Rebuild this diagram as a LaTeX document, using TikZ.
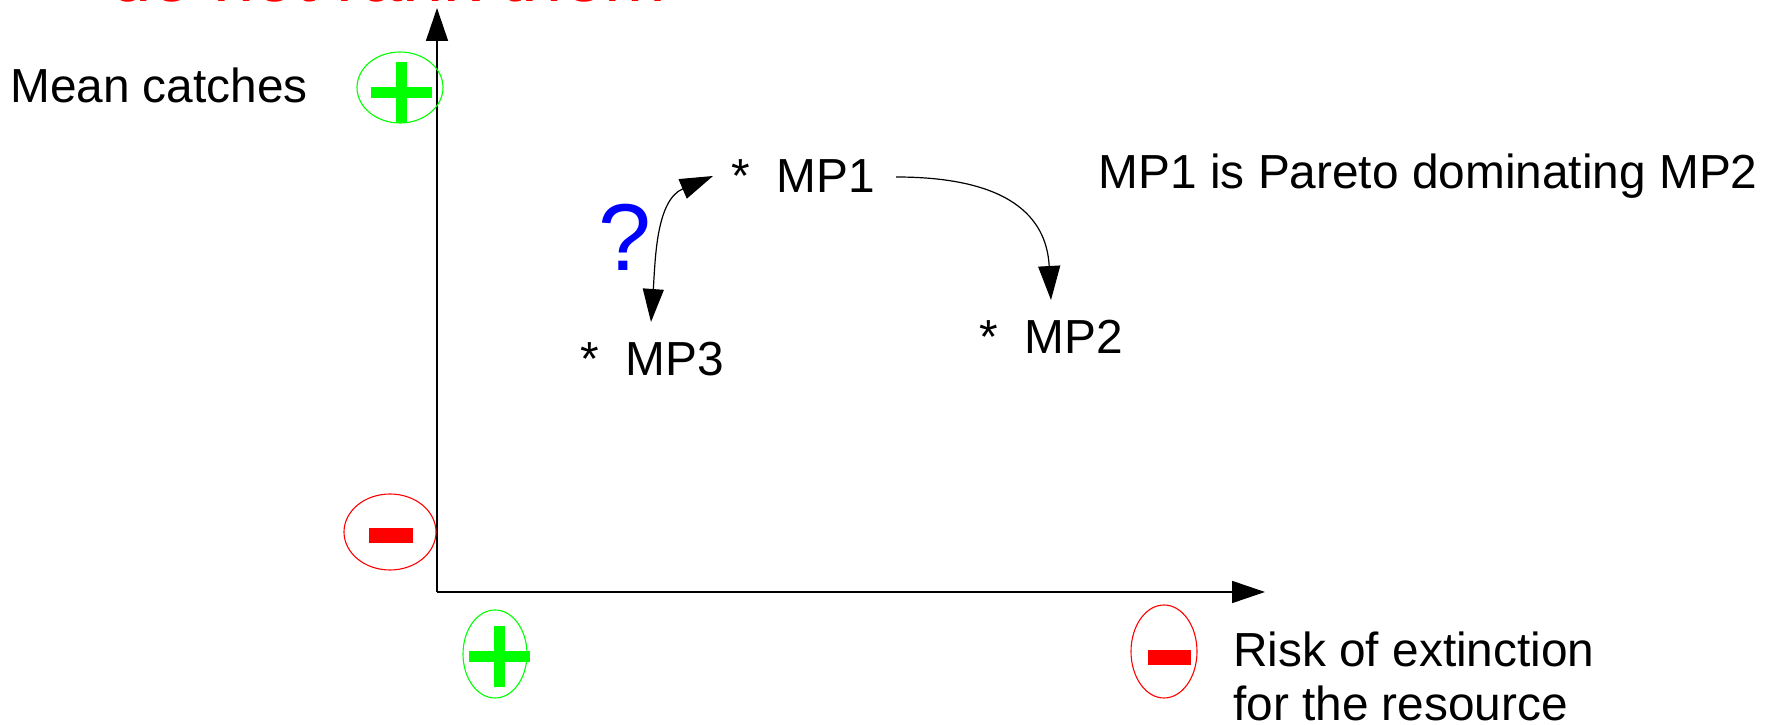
\documentclass[tikz,border=0pt]{standalone}
\usepackage{fontspec}
\setmainfont{Liberation Sans}
\usetikzlibrary{arrows.meta,shapes.geometric}

\definecolor{signgreen}{RGB}{0,255,0}
\definecolor{signred}{RGB}{255,0,0}
\definecolor{qblue}{RGB}{0,0,255}

\begin{document}
\begin{tikzpicture}[x=1pt,y=1pt,
  lbl/.style={inner sep=0pt, anchor=base west, font=\fontsize{47.8}{54}\selectfont},
  axisline/.style={line width=1.6pt, -{Triangle[length=33pt,width=22pt]}},
  linkline/.style={line width=1.2pt},
  tipd/.style={{Triangle[length=33pt,width=21pt]}-{Triangle[length=33pt,width=21pt]}},
  tips/.style={-{Triangle[length=34pt,width=22pt]}},
  signring/.style={ellipse, draw, line width=1.1pt, inner sep=0pt},
  plussign/.pic={
    \fill (-30.5,-5.4) rectangle (30.5,5.4);
    \fill (-5.4,-30.5) rectangle (5.4,30.5);
  }
]
\useasboundingbox (0,0) rectangle (1772,725);

% heading line (only its lower edge falls inside the page)
\node[inner sep=0pt, anchor=base west, text=signred,
      font=\fontsize{74}{80}\selectfont] (title) at (110.5,723) {do not rank them};

% axes
\coordinate (O) at (437,133);
\coordinate (ytip) at (437,717);
\coordinate (xtip) at (1265,133);
\draw[axisline] (O) -- (ytip);
\draw[axisline] (O) -- (xtip);

% axis labels
\node[lbl] (ylab) at (10,622) {Mean catches};
\node[lbl] (xlab) at (1233,58) {Risk of extinction};
\node[lbl] (xlabb) at (1233,4) {for the resource};

% good / bad markers on the axes
\node[signring, draw=signgreen, minimum width=86pt, minimum height=71pt] (ygood) at (400,637.5) {};
\pic[signgreen] at (401.5,632.5) {plussign};

\node[signring, draw=signred, minimum width=92pt, minimum height=76pt] (ybad) at (390,193) {};
\fill[signred] (369,182) rectangle (413,197);

\node[signring, draw=signgreen, minimum width=64pt, minimum height=88pt] (xgood) at (495,71) {};
\pic[signgreen] at (499.5,68.5) {plussign};

\node[signring, draw=signred, minimum width=66pt, minimum height=93pt] (xbad) at (1164,73.5) {};
\fill[signred] (1147.5,60) rectangle (1190.5,75);

% management procedures
\node[lbl] (mp1) at (731,532) {*~~MP1};
\node[lbl] (mp2) at (979.5,371) {*~~MP2};
\node[lbl] (mp3) at (580.5,349) {*~~MP3};

\node[lbl] (pareto) at (1098.5,536) {MP1 is Pareto dominating MP2};

\node[inner sep=0pt, anchor=base, text=qblue,
      font=\fontsize{95}{100}\selectfont] (q) at (624.5,454) {?};

% comparisons
\draw[linkline, tipd] ([shift={(70.5,54)}]mp3.base west)
  to[out=86, in=-157] ([shift={(-18,17)}]mp1.base west);
\draw[linkline, tips] ([shift={(165,16)}]mp1.base west)
  .. controls +(124,0) and +(-4,75) .. ([shift={(71.5,54)}]mp2.base west);
\end{tikzpicture}
\end{document}
